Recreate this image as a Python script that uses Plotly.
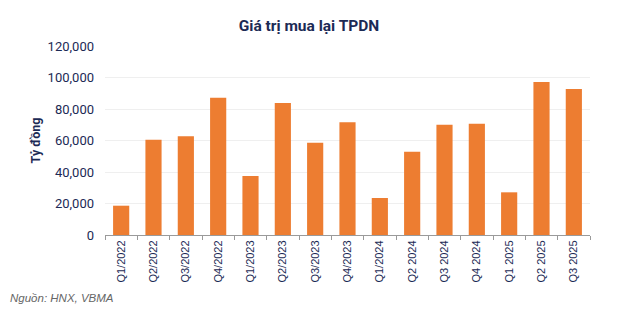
import plotly.graph_objects as go

categories = ["Q1/2022", "Q2/2022", "Q3/2022", "Q4/2022", "Q1/2023", "Q2/2023", "Q3/2023",
              "Q4/2023", "Q1/2024", "Q2 2024", "Q3 2024", "Q4 2024", "Q1 2025", "Q2 2025", "Q3 2025"]
values = [18600, 60500, 62700, 87200, 37500, 83800, 58600, 71600, 23500, 52900, 70000, 70700,
          27100, 97200, 92700]
y_ticks = [0, 20000, 40000, 60000, 80000, 100000, 120000]

navy = "#1c2a55"

fig = go.Figure(go.Bar(x=categories, y=values, marker_color="#ED7D31", marker_line_width=0))

fig.update_layout(
    width=618, height=315,
    margin=dict(l=105, r=28, t=46, b=80),
    paper_bgcolor="white", plot_bgcolor="white",
    bargap=0.5,
    showlegend=False,
    title=dict(text="<b>Giá trị mua lại TPDN</b>", x=0.5, xref="container", y=0.92, yref="container",
               xanchor="center", yanchor="middle",
               font=dict(family="Roboto", size=15.5, color=navy)),
    annotations=[dict(text="<i>Nguồn: HNX, VBMA</i>", x=-97/485, y=-(298-235)/189, xref="paper",
                      yref="paper", xanchor="left", yanchor="middle", showarrow=False,
                      font=dict(family="Liberation Sans", size=11.5, color="#666666"))],
)

fig.update_xaxes(type="category", tickangle=-90, showline=True, linecolor="#9a9a9a", linewidth=1,
                 ticks="outside", tickson="boundaries", ticklen=4, tickcolor="#9a9a9a",
                 tickfont=dict(family="Liberation Sans", size=11, color=navy), showgrid=False)
fig.update_yaxes(range=[0, 120000], tickvals=y_ticks, tickformat=",", showgrid=True,
                 gridcolor="#efefef", gridwidth=1, zeroline=False, showline=False,
                 ticklabelstandoff=10,
                 tickfont=dict(family="Roboto", size=13, color=navy),
                 title=dict(text="<b>Tỷ đồng</b>", font=dict(family="Roboto", size=12.5, color=navy),
                            standoff=4))

fig.write_html("out.html")
